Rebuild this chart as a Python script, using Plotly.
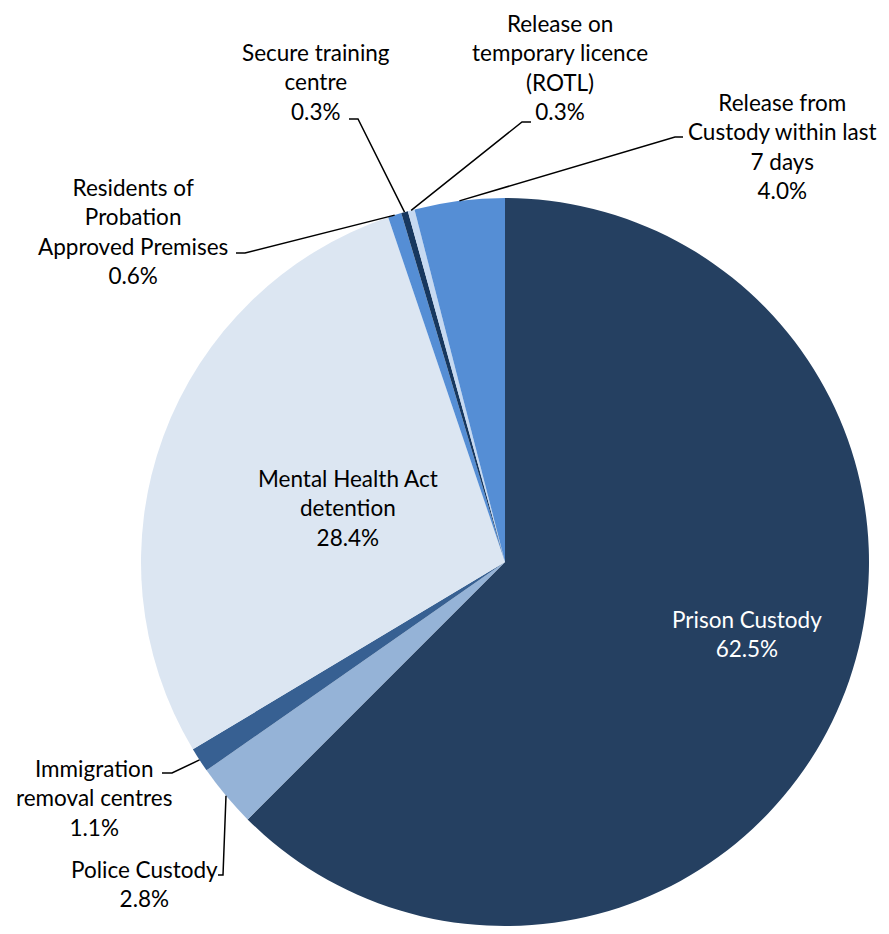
import math

import plotly.graph_objects as go


# ==========================================
# DATA
# ==========================================

categories = [
    "Prison Custody",
    "Police Custody",
    "Immigration removal centres",
    "Mental Health Act detention",
    "Residents of Probation Approved Premises",
    "Secure training centre",
    "Release on temporary licence (ROTL)",
    "Release from Custody within last 7 days",
]

values = [62.5, 2.8, 1.1, 28.4, 0.6, 0.3, 0.3, 4.0]

# wrapped text as it appears on the chart
label_text = [
    "Prison Custody",
    "Police Custody",
    "Immigration<br>removal centres",
    "Mental Health Act<br>detention",
    "Residents of<br>Probation<br>Approved Premises",
    "Secure training<br>centre",
    "Release on<br>temporary licence<br>(ROTL)",
    "Release from<br>Custody within last<br>7 days",
]


# ==========================================
# STYLE / LAYOUT
# ==========================================

# page has an 8px body margin, figure sized to fit the window
OFF = 8
W, H = 889 - 2 * OFF, 934 - 2 * OFF

colors = [
    "#254061", "#95B3D7", "#376092", "#DCE6F2",
    "#558ED5", "#17375E", "#C6D9F1", "#558ED5",
]

# pie geometry (screen pixels)
cx, cy, r = 505, 562, 364

# label block centres (screen pixels)
label_pos = [
    (747, 634), (144, 884), (94, 798), (348, 508),
    (133, 232), (316, 82), (560, 68), (782, 147),
]
label_color = ["white"] + ["black"] * 7

# leader line start points (text end, elbow), None = inside label
leaders = [
    None,
    [(218, 875), (223, 875)],
    [(162, 773), (172, 773)],
    None,
    [(236, 253), (245, 253)],
    [(349, 119), (358, 119)],
    [(531, 122), (522, 122)],
    [(683, 137), (675, 137)],
]

FONT = "Lato"
FONT_SIZE = 22.5


def px(x, y):
    return (x - OFF) / W, (H - (y - OFF)) / H


# ==========================================
# CREATE FIGURE
# ==========================================

fig = go.Figure()

x0, y0 = px(cx - r, cy + r)
x1, y1 = px(cx + r, cy - r)

fig.add_trace(
    go.Pie(
        labels=categories,
        values=values,
        sort=False,
        direction="clockwise",
        rotation=0,
        textinfo="none",
        hoverinfo="label+percent",
        marker=dict(colors=colors, line=dict(width=0)),
        domain=dict(
            x=[max(0, x0), min(1, x1)],
            y=[max(0, y0), min(1, y1)],
        ),
        showlegend=False,
    )
)

total = sum(values)
cum = 0.0

for i, v in enumerate(values):

    mid = (cum + v / 2) / total * 2 * math.pi
    cum += v

    ex = cx + r * math.sin(mid)
    ey = cy - r * math.cos(mid)

    lx, ly = label_pos[i]
    ax, ay = px(lx, ly)

    fig.add_annotation(
        x=ax,
        y=ay,
        xref="paper",
        yref="paper",
        text=f"{label_text[i]}<br>{v:.1f}%",
        showarrow=False,
        xanchor="center",
        yanchor="middle",
        align="center",
        font=dict(family=FONT, size=FONT_SIZE, color=label_color[i]),
    )

    if leaders[i] is not None:

        pts = leaders[i] + [(ex, ey)]
        path = "M " + " L ".join(
            f"{px(x, y)[0]:.5f},{px(x, y)[1]:.5f}" for x, y in pts
        )

        fig.add_shape(
            type="path",
            path=path,
            xref="paper",
            yref="paper",
            line=dict(color="black", width=1.5),
        )

fig.update_layout(
    width=W,
    height=H,
    margin=dict(l=0, r=0, t=0, b=0),
    paper_bgcolor="white",
    plot_bgcolor="white",
)

fig.write_html("out.html")
